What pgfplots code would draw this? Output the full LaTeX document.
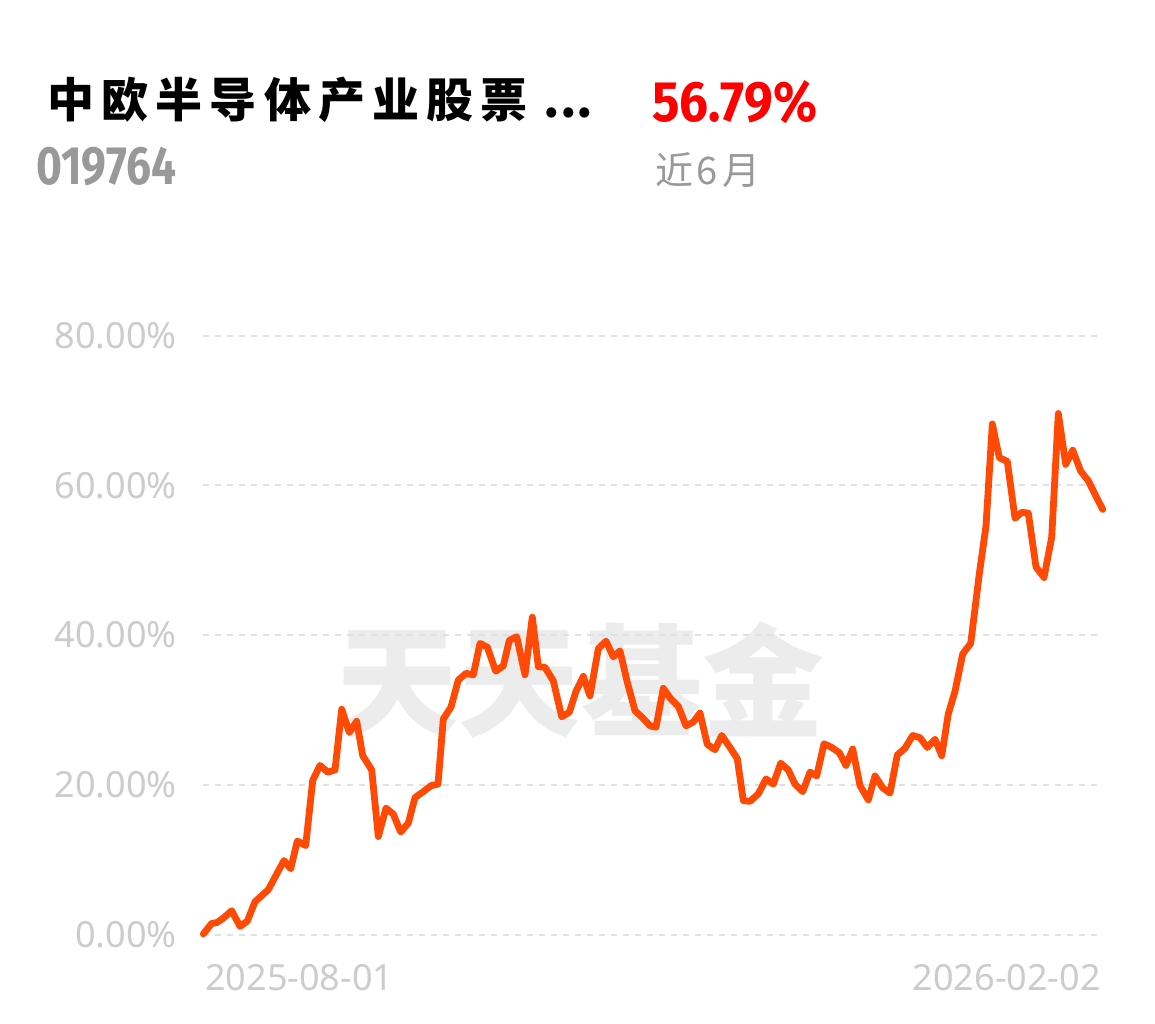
\documentclass[border=0pt]{standalone}
\usepackage{pgfplots}
\pgfplotsset{compat=1.18}
\usepackage{fontspec}
\setmainfont{Noto Sans}
\newfontfamily\cjk{Noto Sans CJK SC}
\newfontfamily\numf{Fira Sans}
\definecolor{lineor}{HTML}{FF4A05}
\definecolor{tickgray}{HTML}{CCCCCC}
\definecolor{gridgray}{HTML}{E0E0E0}
\definecolor{wmgray}{HTML}{ECECEC}
\definecolor{subgray}{HTML}{999999}
\definecolor{redv}{HTML}{FF0000}
\newcommand{\csp}{\hspace{3.6pt}}
\begin{document}
\begin{tikzpicture}[x=0.5pt,y=0.5pt]
\fill[white] (0,0) rectangle (1155,1023);
% watermark
\node[text=wmgray, font=\cjk\bfseries\fontsize{61}{61}\selectfont, inner sep=0pt] at (580,343) {天天基金};
\begin{axis}[
  at={(203,118)}, anchor=south west,
  width=450pt, height=299.5pt, scale only axis,
  xmin=203, xmax=1103, ymin=0, ymax=80,
  clip=false,
  axis line style={draw=none},
  major tick length=0pt,
  xtick=\empty,
  ytick={0,20,40,60,80},
  yticklabels={0.00\%,20.00\%,40.00\%,60.00\%,80.00\%},
  ymajorgrids,
  grid style={gridgray, line width=1pt, dash pattern=on 3pt off 3pt},
  yticklabel style={font=\fontsize{18}{18}\selectfont, text=tickgray, anchor=east, inner sep=0pt, xshift=-13pt},
]
\addplot[lineor, line width=3.4pt, line join=round, line cap=round] table {
x y
203.3 0.1
211.7 1.5
216.7 1.6
223.3 2.2
231.7 3.2
240 1.1
247.3 1.8
255 4.4
261.7 5.2
268.3 6.0
276.7 8.1
284 9.9
290.7 8.8
297.3 12.5
305.7 11.9
312.7 20.6
320 22.6
327.7 21.7
335 22.0
341.7 30.1
349.3 27.0
356.7 28.5
362.7 23.9
371.7 22.0
378.3 13.1
386 16.9
393.3 16.1
400.7 13.7
408.3 14.9
415 18.3
423.3 19.1
431 19.9
438 20.1
443.3 28.8
451 30.4
458.3 34.0
466 34.9
473.3 34.7
480 38.9
487.3 38.4
495.7 35.2
503.3 35.9
509.3 39.3
516.7 39.8
525 34.7
532.3 42.4
538.3 35.8
545 35.7
553.3 33.9
561.7 29.1
569.3 29.7
576 32.5
583.3 34.5
590 31.9
598.3 38.2
606 39.2
613.3 37.1
620 37.9
627.3 33.7
635 29.9
642.3 29.0
650 27.9
656 27.7
663.3 32.9
670.7 31.5
678.3 30.5
686 27.9
693.3 28.4
700 29.6
707.3 25.4
715 24.7
721.7 26.6
730 25.0
737.3 23.5
743.3 17.9
750 17.8
758.3 18.8
766 20.8
773.3 20.1
780.7 22.9
788.3 22.0
795 20.1
802.7 19.1
810 21.7
816.7 21.2
824 25.5
831.7 25.0
839.3 24.3
846 22.6
852.7 24.8
860 19.9
868.3 18.0
875 21.2
882.7 19.6
890 18.9
897.3 24.0
905 24.9
912.7 26.6
920 26.3
927.3 25.0
935 26.1
941.7 23.9
948.3 29.5
955 32.5
962.7 37.5
970.7 38.9
979.3 48.2
986 54.6
992.3 68.2
999.3 63.7
1007.3 63.2
1015 55.6
1021.7 56.4
1028.3 56.3
1036 49.1
1044 47.7
1051.7 53.1
1058.3 69.6
1065.7 62.8
1072.7 64.7
1080.7 61.9
1088.3 60.6
1095 58.8
1102.7 56.79
};
\end{axis}
% x labels
\node[anchor=base west, inner sep=0pt, text=tickgray, font=\fontsize{18}{18}\selectfont] at (205,33) {2025-08-01};
\node[anchor=base east, inner sep=0pt, text=tickgray, font=\fontsize{18}{18}\selectfont] at (1101,33) {2026-02-02};
% header
\node[anchor=west, inner sep=0pt, font=\cjk\bfseries\fontsize{23.5}{23.5}\selectfont] at (47,923) {中\csp 欧\csp 半\csp 导\csp 体\csp 产\csp 业\csp 股\csp 票\hspace{8pt}...};
\node[anchor=base west, inner sep=0pt, text=redv, font=\numf\bfseries\fontsize{28.5}{28.5}\selectfont] at (652,901) {\scalebox{0.9}[1]{56.79\%}};
\node[anchor=base west, inner sep=0pt, text=subgray, font=\numf\bfseries\fontsize{27}{27}\selectfont] at (36,838) {\scalebox{0.82}[1]{019764}};
\node[anchor=west, inner sep=0pt, text=subgray, font=\cjk\fontsize{19}{19}\selectfont] at (655,853) {近\hspace{1.5pt}6\hspace{2.5pt}月};
\end{tikzpicture}
\end{document}
